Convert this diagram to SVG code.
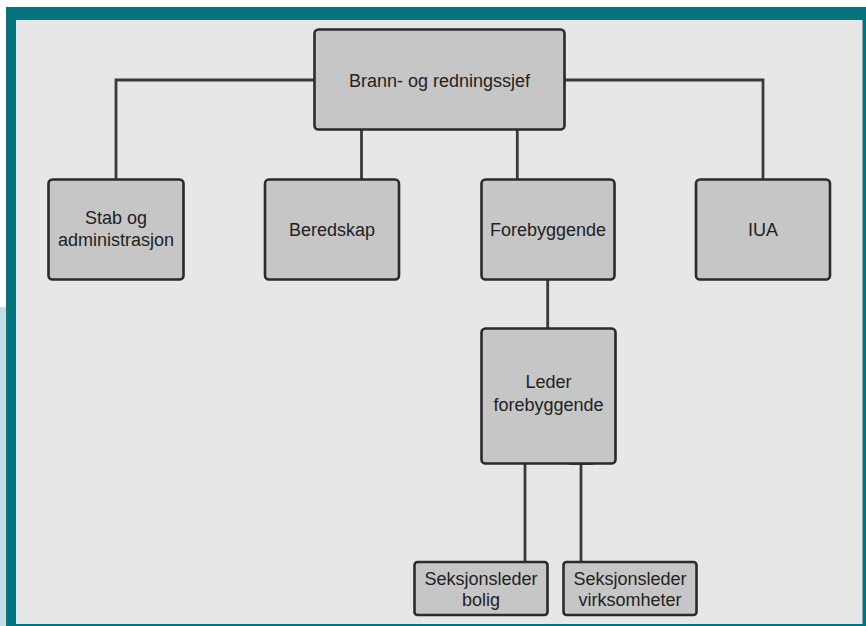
<svg xmlns="http://www.w3.org/2000/svg" width="866" height="626" viewBox="0 0 866 626">
<style>
.box{fill:#c6c6c6;stroke:#2b2b2b;stroke-width:2.6}
.lbl{font-family:"Liberation Sans",Arial,sans-serif;font-size:18px;fill:#222;text-anchor:middle}
.conn{fill:none;stroke:#3a3a3a;stroke-width:2.8}
</style>
<rect x="0" y="0" width="866" height="626" fill="#ffffff"/>
<rect x="0" y="307" width="6" height="319" fill="#c0dfe2"/>
<rect x="6" y="7" width="860" height="619" fill="#04757f"/>
<rect x="16" y="20" width="846.5" height="604" fill="#e7e7e7"/>
<g id="connectors">
<polyline class="conn" points="314,80 116,80 116,179"/>
<polyline class="conn" points="564,80 763,80 763,179"/>
<line class="conn" x1="361.5" y1="130" x2="361.5" y2="179"/>
<line class="conn" x1="517.3" y1="130" x2="517.3" y2="179"/>
<line class="conn" x1="547.7" y1="279" x2="547.7" y2="328"/>
<line class="conn" x1="525" y1="463" x2="525" y2="562"/>
<line class="conn" x1="581" y1="463" x2="581" y2="562"/>
<line class="conn" x1="569" y1="463.5" x2="593" y2="463.5" stroke-width="3.5"/>
</g>
<g id="brannsjef">
<rect class="box" x="314.5" y="29.5" width="250" height="100" rx="4"/>
<text class="lbl" x="439.5" y="86.5">Brann- og redningssjef</text>
</g>
<g id="stab">
<rect class="box" x="48.5" y="179.5" width="135" height="100" rx="4"/>
<text class="lbl" x="116" y="223.5">Stab og</text>
<text class="lbl" x="116" y="246">administrasjon</text>
</g>
<g id="beredskap">
<rect class="box" x="265" y="179.5" width="134" height="100" rx="4"/>
<text class="lbl" x="332" y="235.5">Beredskap</text>
</g>
<g id="forebyggende">
<rect class="box" x="481.5" y="179.5" width="133" height="100" rx="4"/>
<text class="lbl" x="548" y="235.5">Forebyggende</text>
</g>
<g id="iua">
<rect class="box" x="696" y="179.5" width="134" height="100" rx="4"/>
<text class="lbl" x="763" y="235.5">IUA</text>
</g>
<g id="leder">
<rect class="box" x="481.5" y="328.5" width="134" height="135" rx="4"/>
<text class="lbl" x="548.5" y="388">Leder</text>
<text class="lbl" x="548.5" y="410.5">forebyggende</text>
</g>
<g id="bolig">
<rect class="box" x="414.5" y="562" width="133" height="53" rx="3"/>
<text class="lbl" x="481" y="584.5">Seksjonsleder</text>
<text class="lbl" x="481" y="605.5">bolig</text>
</g>
<g id="virksomheter">
<rect class="box" x="563.5" y="562" width="133" height="53" rx="3"/>
<text class="lbl" x="630" y="584.5">Seksjonsleder</text>
<text class="lbl" x="630" y="605.5">virksomheter</text>
</g>
</svg>
